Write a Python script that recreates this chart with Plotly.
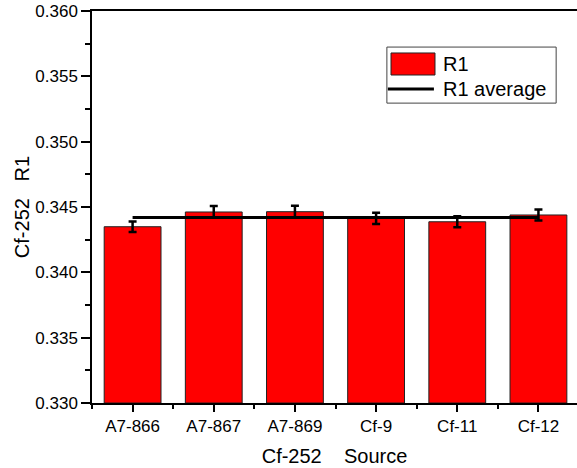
import plotly.graph_objects as go

# Cf-252 source measurements of R1
sources = ["A7-866", "A7-867", "A7-869", "Cf-9", "Cf-11", "Cf-12"]
r1_values = [0.34349, 0.34462, 0.34464, 0.34413, 0.34387, 0.34439]
r1_errors = [0.00040, 0.00045, 0.00045, 0.00043, 0.00042, 0.00042]
y_ticks = [0.330, 0.335, 0.340, 0.345, 0.350, 0.355, 0.360]

r1_average = sum(r1_values) / len(r1_values)
xpos = list(range(len(sources)))

FONT = "Liberation Sans, Arial, sans-serif"

fig = go.Figure()

fig.add_trace(go.Bar(
    x=xpos,
    y=[v - 0.330 for v in r1_values],
    base=0.330,
    width=0.7,
    name="R1",
    marker=dict(color="#ff0000", line=dict(color="#222222", width=1)),
    error_y=dict(type="data", array=r1_errors, visible=True,
                 color="black", thickness=2.5, width=4),
    showlegend=False,
))

fig.add_trace(go.Scatter(
    x=[xpos[0], xpos[-1]],
    y=[r1_average, r1_average],
    mode="lines",
    name="R1 average",
    line=dict(color="black", width=3),
    showlegend=False,
))

# legend box drawn in plot-area coordinates
fig.add_shape(type="rect", xref="paper", yref="paper",
              x0=0.608, x1=0.957, y0=0.765, y1=0.908,
              line=dict(color="#444444", width=1), fillcolor="white", layer="above")
fig.add_shape(type="rect", xref="paper", yref="paper",
              x0=0.6165, x1=0.7072, y0=0.8367, y1=0.8929,
              line=dict(color="#222222", width=1), fillcolor="#ff0000", layer="above")
fig.add_shape(type="line", xref="paper", yref="paper",
              x0=0.610, x1=0.705, y0=0.801, y1=0.801,
              line=dict(color="black", width=3), layer="above")
fig.add_annotation(xref="paper", yref="paper", x=0.7196, y=0.865,
                   text="R1", showarrow=False, xanchor="left", yanchor="middle",
                   font=dict(family=FONT, size=20, color="black"))
fig.add_annotation(xref="paper", yref="paper", x=0.7196, y=0.801,
                   text="R1 average", showarrow=False, xanchor="left", yanchor="middle",
                   font=dict(family=FONT, size=20, color="black"))

fig.update_layout(
    width=577, height=468,
    margin=dict(l=92, r=0, t=11, b=65),
    paper_bgcolor="white", plot_bgcolor="white",
    font=dict(family=FONT, color="black"),
    bargap=0.3,
    xaxis=dict(
        range=[-0.5, 5.475],
        tickmode="array", tickvals=xpos, ticktext=sources,
        ticks="outside", ticklen=7, tickwidth=1.5, tickcolor="black",
        minor=dict(ticks="outside", ticklen=4, tickwidth=1.5, tickcolor="black",
                   tick0=0.5, dtick=1),
        showline=True, linecolor="black", linewidth=1.5, mirror=True,
        showgrid=False, zeroline=False,
        tickfont=dict(family=FONT, size=17, color="black"),
        title=dict(text="Cf-252\u00a0\u00a0\u00a0\u00a0Source",
                   font=dict(family=FONT, size=20, color="black"), standoff=14),
    ),
    yaxis=dict(
        range=[0.330, 0.360],
        tickmode="array", tickvals=y_ticks, tickformat=".3f",
        ticks="outside", ticklen=9, tickwidth=1.5, tickcolor="black",
        minor=dict(ticks="outside", ticklen=5, tickwidth=1.5, tickcolor="black",
                   tick0=0.3325, dtick=0.005),
        showline=True, linecolor="black", linewidth=1.5,
        showgrid=False, zeroline=False,
        tickfont=dict(family=FONT, size=17, color="black"),
        title=dict(text="Cf-252\u00a0\u00a0\u00a0R1",
                   font=dict(family=FONT, size=20, color="black"), standoff=0),
    ),
)

fig.write_html("out.html")
